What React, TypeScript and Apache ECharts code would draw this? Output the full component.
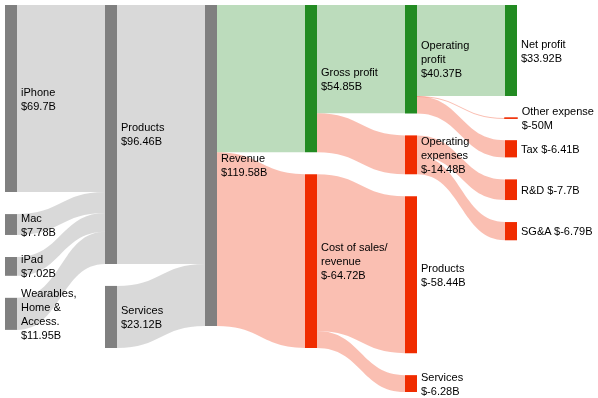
import React, { useEffect, useRef } from "react";
import * as echarts from "echarts";

// Nodes
const nodeNames = [
  "iPhone", "Mac", "iPad", "Wearables",
  "Products", "Services",
  "Revenue",
  "Gross profit", "Cost of sales",
  "Operating profit", "Operating expenses", "Products cost", "Services cost",
  "Net profit", "Other expense", "Tax", "R&D", "SG&A",
];
const nodeLabels = [
  "iPhone\n$69.7B", "Mac\n$7.78B", "iPad\n$7.02B", "Wearables,\nHome &\nAccess.\n$11.95B",
  "Products\n$96.46B", "Services\n$23.12B",
  "Revenue\n$119.58B",
  "Gross profit\n$54.85B", "Cost of sales/\nrevenue\n$-64.72B",
  "Operating\nprofit\n$40.37B", "Operating\nexpenses\n$-14.48B", "Products\n$-58.44B", "Services\n$-6.28B",
  "Net profit\n$33.92B", "Other expense\n$-50M", "Tax $-6.41B", "R&D $-7.7B", "SG&A $-6.79B",
];
// colour group: 0 = neutral, 1 = profit, 2 = cost
const nodeKinds = [0, 0, 0, 0, 0, 0, 0, 1, 2, 1, 2, 2, 2, 1, 2, 2, 2, 2];
const nodeDepths: (number | null)[] = [null, null, null, null, null, 1, null, null, null, null, null, null, null, null, null, null, null, null];

// Links
const linkSources = [
  "iPhone", "Mac", "iPad", "Wearables",
  "Products", "Services",
  "Revenue", "Revenue",
  "Gross profit", "Gross profit",
  "Operating profit", "Operating profit", "Operating profit",
  "Operating expenses", "Operating expenses",
  "Cost of sales", "Cost of sales",
];
const linkTargets = [
  "Products", "Products", "Products", "Products",
  "Revenue", "Revenue",
  "Gross profit", "Cost of sales",
  "Operating profit", "Operating expenses",
  "Net profit", "Other expense", "Tax",
  "R&D", "SG&A",
  "Products cost", "Services cost",
];
const linkValues = [
  69.7, 7.78, 7.02, 11.95,
  96.46, 23.12,
  54.85, 64.72,
  40.37, 14.48,
  33.92, 0.05, 6.41,
  7.7, 6.79,
  58.44, 6.28,
];

const kindColors = ["#808080", "#228b22", "#f02c00"];

export default function App() {
  const ref = useRef<HTMLDivElement>(null);
  useEffect(() => {
    const chart = echarts.init(ref.current!, null, { renderer: "svg" });
    const labelMap: Record<string, string> = {};
    nodeNames.forEach((n, i) => (labelMap[n] = nodeLabels[i]));
    const data = nodeNames.map((name, i) => {
      const color = kindColors[nodeKinds[i]];
      const d: any = { name, itemStyle: { color, borderColor: color, borderWidth: 0 } };
      if (nodeDepths[i] != null) d.depth = nodeDepths[i];
      return d;
    });
    // keep the tiny "Other expense" node visible as a thin bar
    data[nodeNames.indexOf("Other expense")].itemStyle.borderWidth = 1.5;
    const links = linkSources.map((s, i) => ({ source: s, target: linkTargets[i], value: linkValues[i] }));
    chart.setOption({
      animation: false,
      series: [
        {
          type: "sankey",
          left: 5,
          right: 81,
          top: 5,
          bottom: 6,
          nodeWidth: 12,
          nodeGap: 22,
          nodeAlign: "left",
          layoutIterations: 0,
          draggable: false,
          emphasis: { disabled: true },
          label: {
            position: "right",
            distance: 4,
            color: "#000",
            fontFamily: "Liberation Sans, Arial, sans-serif",
            fontSize: 11,
            lineHeight: 14,
            formatter: (p: any) => labelMap[p.name],
          },
          lineStyle: { color: "target", opacity: 0.3, curveness: 0.5 },
          data,
          links,
        },
      ],
    });
    return () => chart.dispose();
  }, []);
  return <div ref={ref} style={{ position: "fixed", left: 0, top: 0, width: 598, height: 398 }} />;
}
